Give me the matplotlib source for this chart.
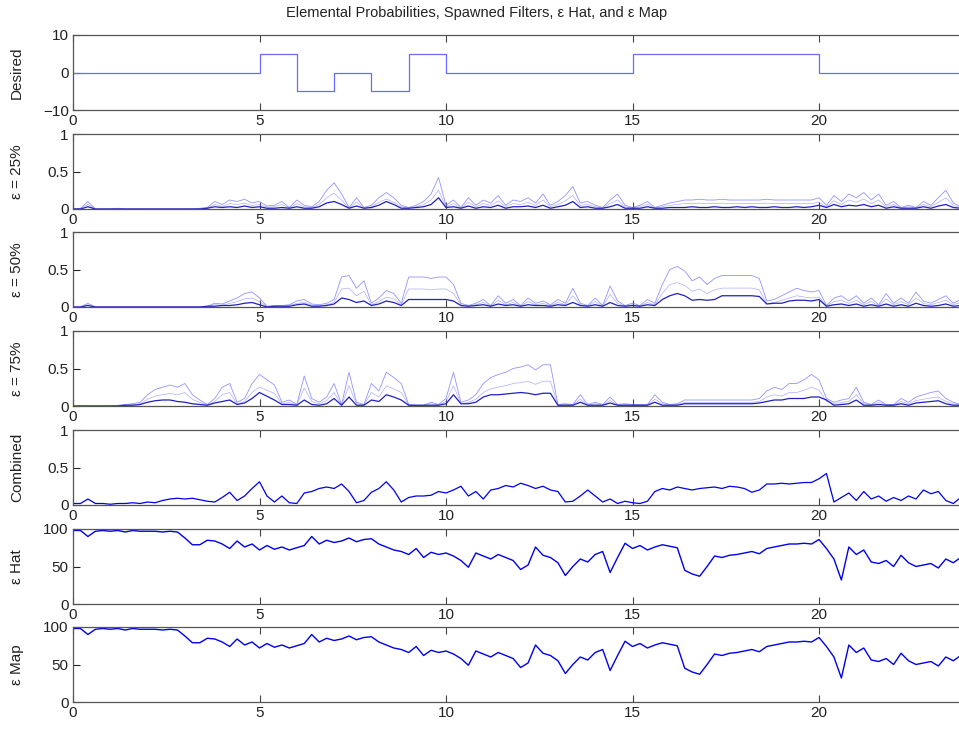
import numpy as np
import matplotlib.pyplot as plt

plt.rcParams['font.family'] = ['Liberation Sans', 'DejaVu Sans']

# time base: one sample every 0.2 s
t = np.arange(120) * 0.2

# desired command, piecewise constant
desired_t = [0, 5, 6, 7, 8, 9, 10, 15, 20, 24]
desired_v = [0, 5, -5, 0, -5, 5, 0, 5, 0, 0]

eps25_hi = [0, 0.01, 0.1, 0, 0, 0, 0.01, 0, 0, 0,
            0, 0, 0, 0, 0, 0, 0, 0.01, 0.02, 0.1,
            0.06, 0.12, 0.1, 0.13, 0.08, 0.1, 0.04, 0.05, 0.1, 0.02,
            0.12, 0.05, 0.03, 0.1, 0.25, 0.35, 0.2, 0.02, 0.15, 0.02,
            0.05, 0.15, 0.22, 0.15, 0.05, 0.02, 0.05, 0.1, 0.2, 0.42,
            0.05, 0.12, 0.02, 0.15, 0.05, 0.12, 0.08, 0.18, 0.05, 0.12,
            0.1, 0.15, 0.08, 0.2, 0.05, 0.1, 0.18, 0.3, 0.08, 0.1,
            0.05, 0.02, 0.12, 0.2, 0.05, 0.02, 0.05, 0.1, 0.02, 0.05,
            0.08, 0.1, 0.12, 0.12, 0.13, 0.12, 0.12, 0.13, 0.12, 0.12,
            0.12, 0.12, 0.12, 0.13, 0.12, 0.12, 0.12, 0.12, 0.12, 0.12,
            0.15, 0.05, 0.18, 0.1, 0.2, 0.15, 0.22, 0.12, 0.2, 0.05,
            0.1, 0.02, 0.05, 0.02, 0.1, 0.05, 0.15, 0.25, 0.08, 0.03]
eps25_lo = [0, 0, 0.03, 0, 0, 0, 0, 0, 0, 0,
            0, 0, 0, 0, 0, 0, 0, 0, 0.01, 0.03,
            0.02, 0.03, 0.02, 0.04, 0.02, 0.03, 0.01, 0.01, 0.02, 0.01,
            0.03, 0.01, 0.01, 0.03, 0.08, 0.1, 0.06, 0.01, 0.04, 0.01,
            0.02, 0.05, 0.1, 0.06, 0.01, 0.01, 0.02, 0.03, 0.06, 0.15,
            0.02, 0.03, 0.01, 0.04, 0.01, 0.03, 0.02, 0.05, 0.01, 0.03,
            0.03, 0.04, 0.02, 0.05, 0.01, 0.03, 0.05, 0.1, 0.02, 0.03,
            0.01, 0.01, 0.03, 0.06, 0.01, 0.01, 0.01, 0.03, 0.01, 0.01,
            0.02, 0.02, 0.02, 0.03, 0.02, 0.02, 0.03, 0.02, 0.02, 0.03,
            0.02, 0.03, 0.02, 0.02, 0.03, 0.02, 0.02, 0.03, 0.02, 0.03,
            0.05, 0.02, 0.06, 0.03, 0.05, 0.04, 0.06, 0.03, 0.05, 0.01,
            0.03, 0.01, 0.01, 0.01, 0.03, 0.01, 0.04, 0.06, 0.02, 0.01]

eps50_hi = [0, 0, 0.05, 0, 0, 0, 0, 0, 0, 0,
            0, 0, 0, 0, 0, 0, 0, 0, 0.01, 0.05,
            0.04, 0.08, 0.12, 0.18, 0.2, 0.12, 0.01, 0.02, 0.02, 0.03,
            0.08, 0.1, 0.04, 0.03, 0.05, 0.1, 0.4, 0.42, 0.25, 0.35,
            0.05, 0.12, 0.22, 0.18, 0.05, 0.4, 0.4, 0.4, 0.38, 0.4,
            0.4, 0.3, 0.05, 0.02, 0.05, 0.1, 0.02, 0.15, 0.05, 0.1,
            0.02, 0.12, 0.05, 0.08, 0.03, 0.1, 0.05, 0.25, 0.05, 0.02,
            0.12, 0.02, 0.28, 0.08, 0.02, 0.05, 0.02, 0.1, 0.05, 0.3,
            0.5, 0.54, 0.48, 0.35, 0.4, 0.3, 0.38, 0.42, 0.42, 0.42,
            0.42, 0.42, 0.38, 0.08, 0.1, 0.15, 0.2, 0.25, 0.22, 0.2,
            0.22, 0.02, 0.12, 0.15, 0.08, 0.15, 0.05, 0.12, 0.03, 0.18,
            0.05, 0.12, 0.05, 0.2, 0.08, 0.05, 0.1, 0.15, 0.05, 0.1]
eps50_lo = [0, 0, 0.02, 0, 0, 0, 0, 0, 0, 0,
            0, 0, 0, 0, 0, 0, 0, 0, 0.01, 0.01,
            0.02, 0.02, 0.03, 0.05, 0.06, 0.03, 0, 0.01, 0.01, 0.01,
            0.03, 0.04, 0.01, 0.01, 0.02, 0.04, 0.12, 0.1, 0.06, 0.08,
            0.02, 0.04, 0.08, 0.06, 0.02, 0.1, 0.1, 0.1, 0.1, 0.1,
            0.1, 0.08, 0.02, 0.01, 0.02, 0.03, 0.01, 0.04, 0.02, 0.03,
            0.01, 0.03, 0.02, 0.02, 0.01, 0.03, 0.02, 0.06, 0.02, 0.01,
            0.03, 0.01, 0.06, 0.02, 0.01, 0.02, 0.01, 0.03, 0.02, 0.1,
            0.15, 0.18, 0.15, 0.09, 0.1, 0.09, 0.1, 0.15, 0.15, 0.15,
            0.15, 0.15, 0.14, 0.04, 0.05, 0.05, 0.08, 0.09, 0.09, 0.08,
            0.1, 0.01, 0.03, 0.04, 0.02, 0.04, 0.01, 0.03, 0.01, 0.04,
            0.01, 0.03, 0.01, 0.05, 0.02, 0.01, 0.02, 0.04, 0.01, 0.02]

eps75_hi = [0, 0, 0, 0, 0, 0, 0.01, 0.02, 0.03, 0.05,
            0.15, 0.22, 0.25, 0.28, 0.25, 0.3, 0.15, 0.08, 0.02, 0.1,
            0.25, 0.3, 0.05, 0.1, 0.3, 0.42, 0.35, 0.28, 0.05, 0.08,
            0.02, 0.4, 0.1, 0.05, 0.12, 0.3, 0.02, 0.45, 0.05, 0.02,
            0.3, 0.2, 0.45, 0.38, 0.3, 0.02, 0.01, 0.01, 0.05, 0.02,
            0.1, 0.45, 0.05, 0.08, 0.15, 0.3, 0.38, 0.42, 0.45, 0.5,
            0.52, 0.55, 0.48, 0.55, 0.55, 0.02, 0.03, 0.02, 0.15, 0.02,
            0.05, 0.02, 0.12, 0.02, 0.03, 0.02, 0.02, 0.02, 0.15, 0.05,
            0.02, 0.03, 0.08, 0.08, 0.08, 0.08, 0.08, 0.08, 0.08, 0.08,
            0.08, 0.08, 0.1, 0.2, 0.25, 0.22, 0.3, 0.3, 0.35, 0.42,
            0.35, 0.1, 0.05, 0.08, 0.1, 0.25, 0.05, 0.02, 0.08, 0.02,
            0.02, 0.1, 0.05, 0.12, 0.15, 0.18, 0.2, 0.1, 0.05, 0.02]
eps75_lo = [0, 0, 0, 0, 0, 0, 0, 0.01, 0.01, 0.02,
            0.05, 0.07, 0.08, 0.08, 0.06, 0.05, 0.03, 0.02, 0.01, 0.04,
            0.06, 0.08, 0.02, 0.04, 0.1, 0.18, 0.13, 0.08, 0.02, 0.02,
            0.01, 0.08, 0.02, 0.01, 0.03, 0.1, 0.01, 0.12, 0.01, 0.01,
            0.08, 0.06, 0.15, 0.12, 0.08, 0.01, 0.01, 0.01, 0.01, 0.01,
            0.03, 0.15, 0.03, 0.03, 0.05, 0.12, 0.15, 0.15, 0.16, 0.17,
            0.18, 0.17, 0.15, 0.17, 0.17, 0.01, 0.01, 0.01, 0.05, 0.01,
            0.01, 0.01, 0.04, 0.01, 0.01, 0.01, 0.01, 0.01, 0.05, 0.01,
            0.01, 0.01, 0.03, 0.03, 0.03, 0.03, 0.03, 0.03, 0.03, 0.03,
            0.03, 0.03, 0.04, 0.06, 0.08, 0.08, 0.1, 0.1, 0.1, 0.12,
            0.12, 0.08, 0.01, 0.02, 0.03, 0.08, 0.01, 0.01, 0.02, 0.01,
            0.01, 0.03, 0.01, 0.04, 0.05, 0.06, 0.07, 0.03, 0.01, 0.01]

combined = [0.02, 0.02, 0.08, 0.02, 0.02, 0.01, 0.02, 0.02, 0.03, 0.02,
            0.04, 0.03, 0.06, 0.08, 0.09, 0.08, 0.09, 0.07, 0.05, 0.04,
            0.1, 0.17, 0.06, 0.12, 0.22, 0.31, 0.12, 0.04, 0.12, 0.03,
            0.02, 0.16, 0.18, 0.22, 0.24, 0.22, 0.28, 0.18, 0.03, 0.06,
            0.17, 0.22, 0.31, 0.2, 0.04, 0.1, 0.12, 0.12, 0.13, 0.18,
            0.16, 0.2, 0.25, 0.12, 0.18, 0.08, 0.2, 0.22, 0.26, 0.24,
            0.29, 0.26, 0.22, 0.25, 0.2, 0.18, 0.04, 0.05, 0.12, 0.2,
            0.12, 0.04, 0.08, 0.02, 0.05, 0.03, 0.02, 0.05, 0.18, 0.22,
            0.2, 0.24, 0.22, 0.2, 0.22, 0.23, 0.24, 0.22, 0.25, 0.24,
            0.22, 0.17, 0.2, 0.28, 0.28, 0.29, 0.28, 0.29, 0.3, 0.3,
            0.35, 0.42, 0.04, 0.1, 0.16, 0.06, 0.18, 0.08, 0.12, 0.05,
            0.1, 0.06, 0.12, 0.08, 0.2, 0.15, 0.18, 0.06, 0.02, 0.1]

eps_hat = [98, 98, 90, 97, 98, 97, 98, 96, 98, 97,
           97, 97, 96, 97, 96, 88, 79, 79, 85, 84,
           80, 74, 84, 76, 80, 72, 78, 73, 76, 72,
           75, 78, 90, 80, 85, 82, 84, 88, 83, 86,
           87, 80, 76, 72, 70, 66, 74, 62, 69, 66,
           68, 64, 58, 49, 68, 64, 60, 66, 62, 58,
           46, 52, 76, 65, 62, 55, 38, 50, 60, 56,
           66, 70, 42, 62, 81, 74, 78, 72, 76, 79,
           77, 75, 45, 40, 37, 50, 64, 62, 65, 66,
           68, 70, 67, 74, 76, 78, 80, 80, 81, 80,
           86, 74, 60, 32, 76, 66, 72, 56, 54, 58,
           50, 65, 55, 50, 52, 54, 48, 60, 55, 62]
eps_map = list(eps_hat)

ylabels = ['Desired', 'ε = 25%', 'ε = 50%', 'ε = 75%', 'Combined', 'ε Hat', 'ε Map']

fig = plt.figure(figsize=(9.59, 7.31), dpi=100)
W, H = 959, 731
left_px = 73
width_px = 24 * 37.3
bottoms_px = [110, 209, 307, 406, 505, 604, 702]
height_px = 75

axes = []
for i in range(7):
    ax = fig.add_axes([left_px / W, 1 - bottoms_px[i] / H, width_px / W, height_px / H])
    axes.append(ax)

blue = '#0000ee'
light = '#7878ff'

axes[0].step(desired_t, desired_v, where='post', color='#6a6aff', lw=0.9)
axes[0].set_ylim(-10, 10)
axes[0].set_yticks([-10, 0, 10])

pairs = [(eps25_hi, eps25_lo), (eps50_hi, eps50_lo), (eps75_hi, eps75_lo)]
for ax, (hi, lo) in zip(axes[1:4], pairs):
    ax.plot(t, hi, color=light, lw=0.6, alpha=0.8)
    ax.plot(t, np.array(hi) * 0.6, color=light, lw=0.5, alpha=0.6)
    ax.plot(t, lo, color='#2020c0', lw=0.9)

axes[4].plot(t, combined, color=blue, lw=0.9)
for ax in axes[1:5]:
    ax.set_ylim(0, 1)
    ax.set_yticks([0, 0.5, 1])
    ax.set_yticklabels(['0', '0.5', '1'])

axes[5].plot(t, eps_hat, color=blue, lw=1.0)
axes[6].plot(t, eps_map, color=blue, lw=1.0)
for ax in axes[5:]:
    ax.set_ylim(0, 100)
    ax.set_yticks([0, 50, 100])

for ax, lab in zip(axes, ylabels):
    ax.set_xlim(0, 24)
    ax.set_xticks([0, 5, 10, 15, 20])
    ax.tick_params(direction='in', top=True, right=False, length=5, width=0.8,
                   labelsize=11, colors='#222222', pad=3)
    ax.tick_params(axis='x', colors='#444444', labelcolor='#222222')
    for s in ax.spines.values():
        s.set_color('#555555')
        s.set_linewidth(0.9)
    ax.patch.set_alpha(0)
    ax.set_ylabel(lab, fontsize=11, color='#222222')
    ax.yaxis.set_label_coords(-0.055, 0.5)

fig.text(477 / W, 1 - 13 / H, 'Elemental Probabilities, Spawned Filters, ε Hat, and ε Map',
         ha='center', va='center', fontsize=10.5, color='#222222')

fig.savefig('out.png', dpi=100)
